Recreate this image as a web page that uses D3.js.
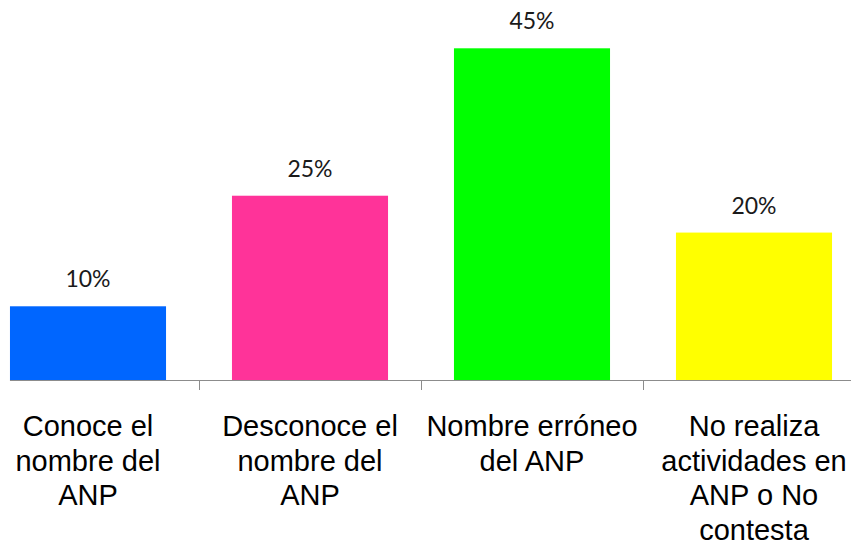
<!DOCTYPE html>
<html>
<head>
<meta charset="utf-8">
<script src="https://cdn.jsdelivr.net/npm/d3@7"></script>
<style>
  html, body { margin: 0; padding: 0; background: #ffffff; }
  svg { display: block; }
</style>
</head>
<body>
<svg id="chart" width="851" height="544"></svg>
<script>
// ---- data ----
const categories = [
  "Conoce el\nnombre del\nANP",
  "Desconoce el\nnombre del\nANP",
  "Nombre erróneo\ndel ANP",
  "No realiza\nactividades en\nANP o No\ncontesta"
];
const values = [10, 25, 45, 20];
const valueLabels = ["10%", "25%", "45%", "20%"];
const barColors = ["#0066FF", "#FF3399", "#00FF00", "#FFFF00"];

// ---- layout ----
const svg = d3.select("#chart");
const baseY = 380;
const bandLeft = -23, bandRight = 865;

const x = d3.scaleBand()
  .domain(categories)
  .range([bandLeft, bandRight])
  .paddingInner(0.297)
  .paddingOuter(0.1485);

const y = d3.scaleLinear()
  .domain([0, 45])
  .range([baseY, 48.3]);

const step = x.step();

// bars
svg.append("g").selectAll("rect")
  .data(categories)
  .join("rect")
  .attr("x", d => x(d))
  .attr("y", (d, i) => y(values[i]))
  .attr("width", x.bandwidth())
  .attr("height", (d, i) => baseY - y(values[i]))
  .attr("fill", (d, i) => barColors[i]);

// axis line
svg.append("line")
  .attr("x1", x(categories[0]))
  .attr("x2", 851)
  .attr("y1", baseY + 0.5)
  .attr("y2", baseY + 0.5)
  .attr("stroke", "#8c8c8c")
  .attr("stroke-width", 1);

// tick marks at category boundaries
const boundaries = categories.slice(1).map(d => x(d) - x.paddingInner() * step / 2);
svg.append("g").selectAll("line")
  .data(boundaries)
  .join("line")
  .attr("x1", d => Math.round(d) + 0.5)
  .attr("x2", d => Math.round(d) + 0.5)
  .attr("y1", baseY)
  .attr("y2", baseY + 10)
  .attr("stroke", "#8c8c8c")
  .attr("stroke-width", 1);

// value labels
svg.append("g").selectAll("text")
  .data(categories)
  .join("text")
  .attr("x", d => x(d) + x.bandwidth() / 2)
  .attr("y", (d, i) => y(values[i]) - 19)
  .attr("text-anchor", "middle")
  .attr("font-family", "Lato, 'Open Sans', sans-serif")
  .attr("font-size", 23)
  .attr("fill", "#1a1a1a")
  .text((d, i) => valueLabels[i]);

// category labels
const lineH = 34.6;
const catG = svg.append("g");
categories.forEach(d => {
  const t = catG.append("text")
    .attr("x", x(d) + x.bandwidth() / 2)
    .attr("y", 436)
    .attr("text-anchor", "middle")
    .attr("font-family", "'Liberation Sans', Arial, sans-serif")
    .attr("font-size", 29)
    .attr("fill", "#000");
  d.split("\n").forEach((ln, j) => {
    t.append("tspan")
      .attr("x", x(d) + x.bandwidth() / 2)
      .attr("y", 436 + j * lineH)
      .text(ln);
  });
});
</script>
</body>
</html>
